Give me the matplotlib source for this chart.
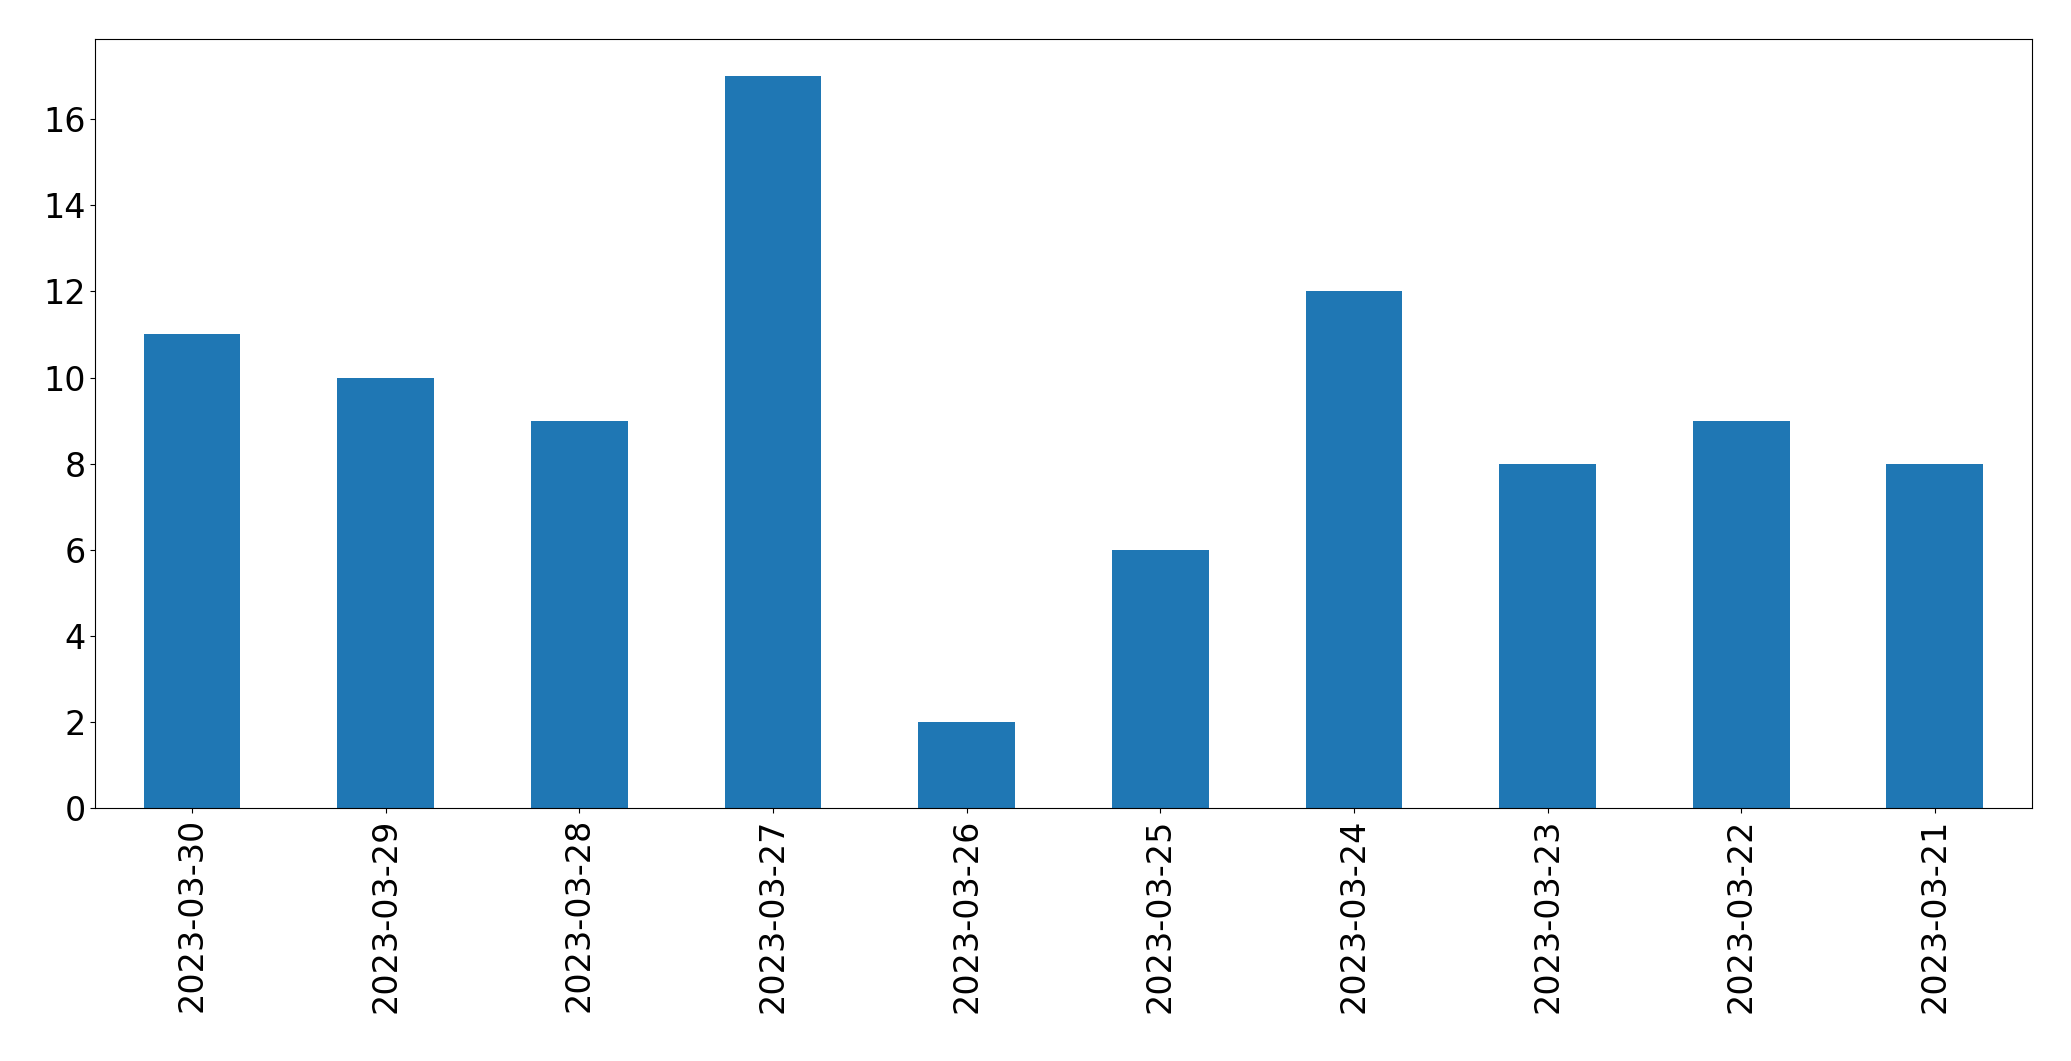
import matplotlib
matplotlib.use("Agg")
import matplotlib.pyplot as plt
import pandas as pd

dates = ['2023-03-30', '2023-03-29', '2023-03-28', '2023-03-27', '2023-03-26',
         '2023-03-25', '2023-03-24', '2023-03-23', '2023-03-22', '2023-03-21']
counts = [11, 10, 9, 17, 2, 6, 12, 8, 9, 8]

s = pd.Series(counts, index=dates)
fig = plt.figure(figsize=(20.71, 10.61), dpi=100)
ax = fig.add_axes([0.046, 0.238, 0.935, 0.725])
s.plot.bar(ax=ax, color='#1f77b4', width=0.5)
ax.tick_params(labelsize=24)
fig.savefig('out.png', dpi=100)
